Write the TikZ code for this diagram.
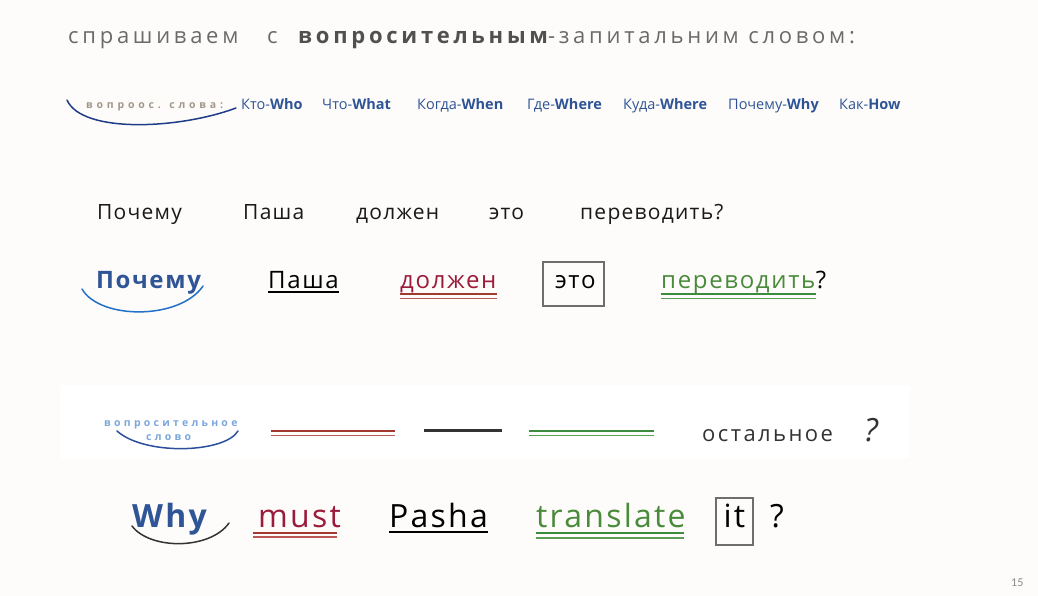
\documentclass[tikz,border=0pt]{standalone}
\usepackage{fontspec}
\setmainfont{Open Sans}
\newfontfamily\ftitle[LetterSpace=17]{Open Sans}
\newfontfamily\fwideA[LetterSpace=36]{Open Sans}
\newfontfamily\fwideB[LetterSpace=31]{Open Sans}
\newfontfamily\frow[LetterSpace=6]{Open Sans}
\newfontfamily\frowB[LetterSpace=11]{Open Sans}
\newfontfamily\fbig[LetterSpace=7]{Open Sans}
\newfontfamily\fhuge[LetterSpace=7]{Open Sans}
\newfontfamily\fnum{Carlito}
\usetikzlibrary{calc}
\definecolor{bgc}{HTML}{FDFCFA}
\definecolor{titlegray}{HTML}{6A6A6A}
\definecolor{titledark}{HTML}{505050}
\definecolor{beige}{HTML}{A39689}
\definecolor{qblue}{HTML}{2F5496}
\definecolor{arcnavy}{HTML}{1F3C88}
\definecolor{whyblue}{HTML}{2F5597}
\definecolor{arcblue}{HTML}{2270C8}
\definecolor{crimson}{HTML}{9B1B3B}
\definecolor{redline}{HTML}{A33A30}
\definecolor{redlineb}{HTML}{B85A55}
\definecolor{boxgray}{HTML}{6E6E6E}
\definecolor{greentxt}{HTML}{4A8B3B}
\definecolor{greenline}{HTML}{3D8B3D}
\definecolor{greenlineb}{HTML}{5A9E55}
\definecolor{lightblue}{HTML}{7BA7DB}
\definecolor{arcblue2}{HTML}{2B4F9C}
\definecolor{darkgray}{HTML}{333333}
\definecolor{numgray}{HTML}{8A8A8A}
\begin{document}
\begin{tikzpicture}[x=1pt,y=-1pt,
  txt/.style={inner sep=0pt, anchor=base west},
  ttl/.style={txt, text=titlegray, font=\ftitle\fontsize{22}{26}\selectfont},
  qw/.style={txt, text=qblue, font=\fontsize{14.5}{17}\selectfont},
  plain/.style={txt, text=black!90, font=\frow\fontsize{21}{25}\selectfont},
  big/.style={txt, font=\fbig\fontsize{24}{28}\selectfont},
  huge/.style={txt, font=\fhuge\fontsize{32}{38}\selectfont},
  singleline/.style={line width=2pt, black},
  redA/.style={line width=1.4pt, redline},
  redB/.style={line width=1.4pt, redlineb},
  grA/.style={line width=1.4pt, greenline},
  grB/.style={line width=1.4pt, greenlineb},
  boxst/.style={draw=boxgray, line width=1.5pt, inner sep=0pt, anchor=north west},
  arcst/.style={line width=1.5pt, line cap=round}
]
\useasboundingbox (0,0) rectangle (1038,596);
\fill[bgc] (0,0) rectangle (1038,596);
\fill[white] (60,385) rectangle (910,458);

% title
\node[ttl] (t1) at (68,44) {спрашиваем};
\node[ttl] (t2) at (267,44) {с};
\node[ttl] (t3) at (298,44) {{\color{titledark}\bfseries вопросительным}-запитальним словом:};

% row 1
\node[txt, text=beige, font=\fwideA\fontsize{10.5}{12}\selectfont\bfseries] (q0) at (86,109) {вопроос. слова:};
\draw[arcst, arcnavy] (67,100) .. controls (82,134) and (180,129) .. (236,108);
\node[qw] (w1) at (241,110) {Кто-\textbf{Who}};
\node[qw] (w2) at (322,110) {Что-\textbf{What}};
\node[qw] (w3) at (417,110) {Когда-\textbf{When}};
\node[qw] (w4) at (527,110) {Где-\textbf{Where}};
\node[qw] (w5) at (623,110) {Куда-\textbf{Where}};
\node[qw] (w6) at (728,110) {Почему-\textbf{Why}};
\node[qw] (w7) at (839,110) {Как-\textbf{How}};

% row 2
\node[plain] (p1) at (97,219) {Почему};
\node[plain] (p2) at (243,219) {Паша};
\node[plain] (p3) at (356,219) {должен};
\node[plain] (p4) at (489,219) {это};
\node[plain] (p5) at (580,219) {переводить?};

% row 3
\node[big, text=whyblue, font=\fbig\fontsize{24}{28}\selectfont\bfseries] (r1) at (96,288) {Почему};
\draw[arcst, arcblue] (82,289) .. controls (100,320) and (180,320) .. (203,286);
\node[big, text=black] (r2) at (268,288) {Паша};
\draw[singleline] ($(r2.base west)+(0,3.5)$) -- ($(r2.base east)+(0,3.5)$);
\node[big, text=crimson] (r3) at (400,288) {должен};
\draw[redA] ($(r3.base west)+(0,6)$) -- ($(r3.base east)+(0,6)$);
\draw[redB] ($(r3.base west)+(0,10.5)$) -- ($(r3.base east)+(0,10.5)$);
\node[boxst, minimum width=61pt, minimum height=44pt] (etobox) at (542,261) {};
\node[big, text=black] (r4) at (555,288) {это};
\node[big, text=greentxt] (r5) at (661,288) {переводить};
\node[big, text=black] (r5q) at (r5.base east) {?};
\draw[grA] ($(r5.base west)+(0,6)$) -- ($(r5.base east)+(0,6)$);
\draw[grB] ($(r5.base west)+(0,10.5)$) -- ($(r5.base east)+(0,10.5)$);

% row 4
\node[txt, text=lightblue, font=\fwideB\fontsize{10.5}{12}\selectfont\bfseries] (s1) at (104,426) {вопросительное};
\node[txt, text=lightblue, font=\fwideB\fontsize{10.5}{12}\selectfont\bfseries] (s2) at (146,440) {слово};
\draw[arcst, arcblue2] (117,431) .. controls (145,456) and (225,453) .. (238,431);
\coordinate (ra) at (271,431);
\coordinate (rb) at (395,431);
\draw[redA] (ra) -- (rb);
\draw[redB] ($(ra)+(0,4.5)$) -- ($(rb)+(0,4.5)$);
\coordinate (ka) at (424,430.5);
\coordinate (kb) at (502,430.5);
\draw[line width=2.2pt, darkgray] (ka) -- (kb);
\coordinate (ga) at (529,431);
\coordinate (gb) at (654,431);
\draw[grA] (ga) -- (gb);
\draw[grB] ($(ga)+(0,4.5)$) -- ($(gb)+(0,4.5)$);
\node[txt, text=darkgray, font=\frowB\fontsize{22}{26}\selectfont] (ost) at (702,441) {остальное};
\node[txt, text=darkgray, font=\fontsize{32}{38}\selectfont\itshape] (ostq) at (864,441) {?};

% row 5
\node[huge, text=whyblue, font=\fhuge\fontsize{32}{38}\selectfont\bfseries] (e1) at (132,527) {Why};
\draw[arcst, darkgray] (132,526) .. controls (150,550) and (210,550) .. (229,523);
\node[huge, text=crimson] (e2) at (258,527) {must};
\draw[redA] ($(e2.base west)+(-5,6)$) -- ($(e2.base east)+(-4,6)$);
\draw[redB] ($(e2.base west)+(-5,10)$) -- ($(e2.base east)+(-4,10)$);
\node[huge, text=black] (e3) at (389,527) {Pasha};
\draw[line width=2.5pt, black] ($(e3.base west)+(0,5)$) -- ($(e3.base east)+(0,5)$);
\node[huge, text=greentxt] (e4) at (536,527) {translate};
\draw[grA] ($(e4.base west)+(0,6)$) -- ($(e4.base east)+(-2,6)$);
\draw[grB] ($(e4.base west)+(0,11)$) -- ($(e4.base east)+(-2,11)$);
\node[boxst, minimum width=37pt, minimum height=47pt] (itbox) at (715,497) {};
\node[huge, text=black, anchor=base] (e5) at (734.5,527) {it};
\node[huge, text=black] (e6) at (770,527) {?};

\node[txt, text=numgray, font=\fnum\fontsize{12}{14}\selectfont] (pg) at (1011,586) {15};
\end{tikzpicture}
\end{document}
